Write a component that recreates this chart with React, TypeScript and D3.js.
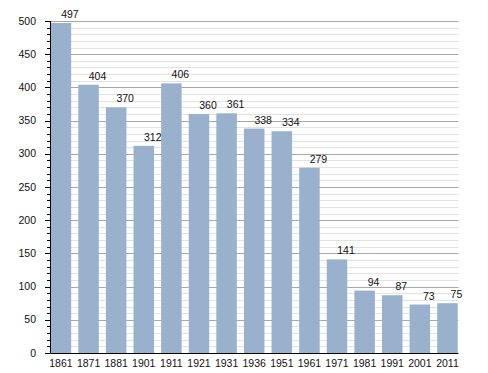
import React from "react";
import * as d3 from "d3";

const years = ["1861","1871","1881","1901","1911","1921","1931","1936","1951","1961","1971","1981","1991","2001","2011"];
const population = [497,404,370,312,406,360,361,338,334,279,141,94,87,73,75];
const majorTicks = [0,50,100,150,200,250,300,350,400,450,500];

export default function App() {
  const W = 488, H = 373;
  const left = 50.5, right = 458.5, top = 21, bottom = 353;
  const y = d3.scaleLinear().domain([0, 500]).range([bottom, top]);
  const x = d3.scaleBand<string>().domain(years).range([50.7, 457.7]).paddingInner(0.257).paddingOuter(0);
  const minor = d3.range(0, 501, 10).filter(v => v % 50 !== 0);
  const font = "'Liberation Sans', Arial, sans-serif";
  return (
    <svg width={W} height={H} style={{ position: "absolute", left: 0, top: 0 }} fontFamily={font}>
      <rect width={W} height={H} fill="#fff" />
      {minor.map(v => (
        <line key={"m" + v} x1={left} x2={right} y1={Math.round(y(v)) + 0.5} y2={Math.round(y(v)) + 0.5} stroke="#e2e2e2" strokeWidth={1} />
      ))}
      {majorTicks.filter(v => v > 0).map(v => (
        <line key={"M" + v} x1={left} x2={right} y1={Math.round(y(v)) + 0.5} y2={Math.round(y(v)) + 0.5} stroke="#a8a8a8" strokeWidth={1} />
      ))}
      {population.map((v, i) => (
        <rect key={"b" + i} x={x(years[i])} y={y(v)} width={x.bandwidth()} height={bottom - y(v)} fill="#9ab1cd" />
      ))}
      {population.map((v, i) => (
        <text key={"l" + i} x={(x(years[i]) as number) + x.bandwidth() / 2 + 9} y={y(v) - 5} fontSize={10.5} textAnchor="middle" fill="#111">{v}</text>
      ))}
      <line x1={left} x2={left} y1={top} y2={bottom} stroke="#000" />
      <line x1={left} x2={right} y1={bottom + 0.5} y2={bottom + 0.5} stroke="#000" />
      {minor.map(v => (
        <line key={"mt" + v} x1={left - 3.5} x2={left} y1={Math.round(y(v)) + 0.5} y2={Math.round(y(v)) + 0.5} stroke="#000" />
      ))}
      {majorTicks.map(v => (
        <line key={"Mt" + v} x1={left - 5.5} x2={left} y1={Math.round(y(v)) + 0.5} y2={Math.round(y(v)) + 0.5} stroke="#000" />
      ))}
      {majorTicks.map(v => (
        <text key={"yt" + v} x={36} y={y(v) + 3.5} fontSize={10.5} textAnchor="end" fill="#111">{v}</text>
      ))}
      {years.map(yr => (
        <text key={"xt" + yr} x={(x(yr) as number) + x.bandwidth() / 2} y={367} fontSize={10.5} textAnchor="middle" fill="#111">{yr}</text>
      ))}
    </svg>
  );
}
